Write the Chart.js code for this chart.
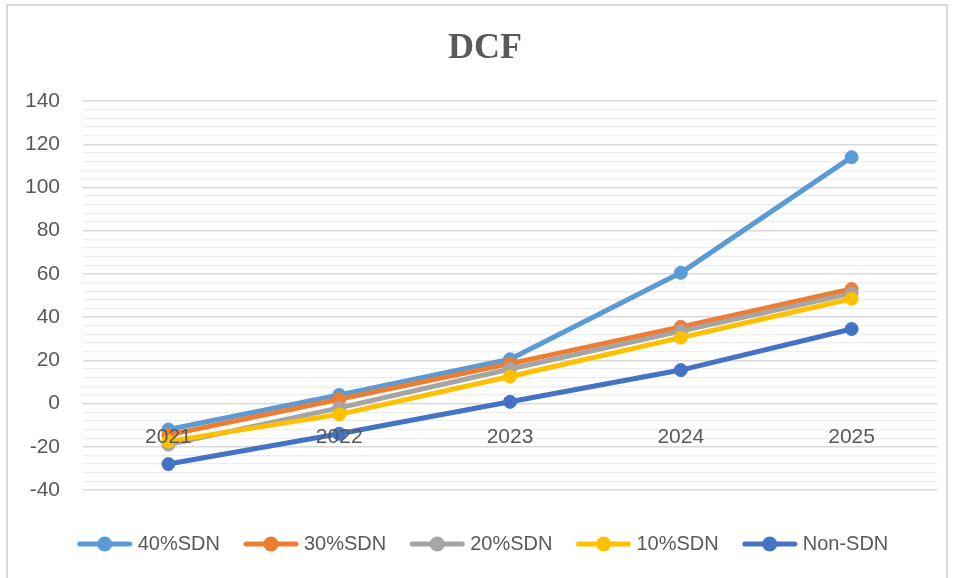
<html>
<head>
  <title>DCF</title>
  <script src="https://cdn.jsdelivr.net/npm/chart.js"></script>
  <style>
    body { margin: 0; background: #fff; }
    #frame { position: absolute; left: 6px; top: 4px; width: 938px; height: 578px; border: 2px solid #d9d9d9; }
    #wrap { position: absolute; left: 0; top: 0; width: 954px; height: 578px; }
  </style>
</head>
<body>
  <div id="frame"></div>
  <div id="wrap"><canvas id="dcfChart"></canvas></div>

  <script>
    // data
    var years = ["2021", "2022", "2023", "2024", "2025"];
    var sdn40 = [-12, 4, 20.5, 60.5, 114];
    var sdn30 = [-14.5, 2, 18.5, 35.5, 53];
    var sdn20 = [-19, -2, 16, 33.5, 51];
    var sdn10 = [-17.5, -5, 12.5, 30.5, 48.5];
    var nonSdn = [-28, -14, 0.8, 15.5, 34.5];

    var seriesNames = ["40%SDN", "30%SDN", "20%SDN", "10%SDN", "Non-SDN"];
    var seriesData = [sdn40, sdn30, sdn20, sdn10, nonSdn];
    var colors = ["#5B9BD5", "#ED7D31", "#A5A5A5", "#FFC000", "#4472C4"];

    var grey = "#595959";
    Chart.defaults.font.family = "'Liberation Sans', Arial, sans-serif";
    Chart.defaults.color = grey;

    // little line + dot picture for the legend
    function legendMarker(color) {
      var c = document.createElement("canvas");
      c.width = 56; c.height = 16;
      var ctx = c.getContext("2d");
      ctx.strokeStyle = color;
      ctx.lineWidth = 5;
      ctx.lineCap = "round";
      ctx.beginPath();
      ctx.moveTo(3, 8); ctx.lineTo(53, 8);
      ctx.stroke();
      ctx.fillStyle = color;
      ctx.beginPath();
      ctx.arc(28, 8, 7.5, 0, Math.PI * 2);
      ctx.fill();
      return c;
    }
    var markers = colors.map(legendMarker);

    var datasets = [];
    for (var i = 0; i < seriesNames.length; i++) {
      datasets.push({
        label: seriesNames[i],
        data: seriesData[i],
        borderColor: colors[i],
        backgroundColor: colors[i],
        borderWidth: 5,
        borderJoinStyle: "round",
        pointRadius: 6.5,
        pointBorderWidth: 1,
        pointHoverRadius: 6.5,
        tension: 0,
        order: seriesNames.length - 1 - i
      });
    }

    new Chart(document.getElementById("dcfChart"), {
      type: "line",
      data: { labels: years, datasets: datasets },
      options: {
        responsive: true,
        maintainAspectRatio: false,
        animation: false,
        layout: { padding: { left: 16, right: 0, top: 0, bottom: 14 } },
        scales: {
          x: {
            type: "category",
            position: { y: 0 },
            offset: true,
            grid: { display: false },
            border: { display: false },
            // year labels sit on top of the lines, like the original
            ticks: { font: { size: 21 }, padding: 13, color: grey, z: 1 }
          },
          y: {
            min: -40,
            max: 140,
            border: { display: false },
            grid: {
              drawTicks: false,
              color: function (c) { return c.tick && c.tick.value % 20 === 0 ? "#d9d9d9" : "#ededed"; },
              lineWidth: function (c) { return c.tick && c.tick.value % 20 === 0 ? 1.4 : 1.2; }
            },
            ticks: {
              stepSize: 4,
              autoSkip: false,
              padding: 23,
              font: { size: 21 },
              color: grey,
              callback: function (v) { return v % 20 === 0 ? v : ""; }
            },
            afterFit: function (s) { s.width = 67; }
          },
          yRight: {
            position: "right",
            display: true,
            grid: { display: false },
            border: { display: false },
            ticks: { display: false },
            afterFit: function (s) { s.width = 17; }
          }
        },
        plugins: {
          title: {
            display: true,
            text: "DCF",
            color: grey,
            font: { family: "'Liberation Serif', 'Times New Roman', serif", size: 36, weight: "bold", lineHeight: 1.2 },
            padding: { top: 27.4, bottom: 30.4 }
          },
          legend: {
            position: "bottom",
            title: { display: true, text: "", padding: 0, font: { size: 16, lineHeight: 1 } },
            labels: {
              usePointStyle: true,
              pointStyleWidth: 46,
              padding: 28,
              color: grey,
              font: { size: 20 },
              sort: function (a, b) { return a.datasetIndex - b.datasetIndex; },
              generateLabels: function (chart) {
                var items = Chart.defaults.plugins.legend.labels.generateLabels(chart);
                items.forEach(function (it) { it.pointStyle = markers[it.datasetIndex]; });
                return items;
              }
            }
          },
          tooltip: { enabled: false }
        }
      }
    });
  </script>
</body>
</html>
